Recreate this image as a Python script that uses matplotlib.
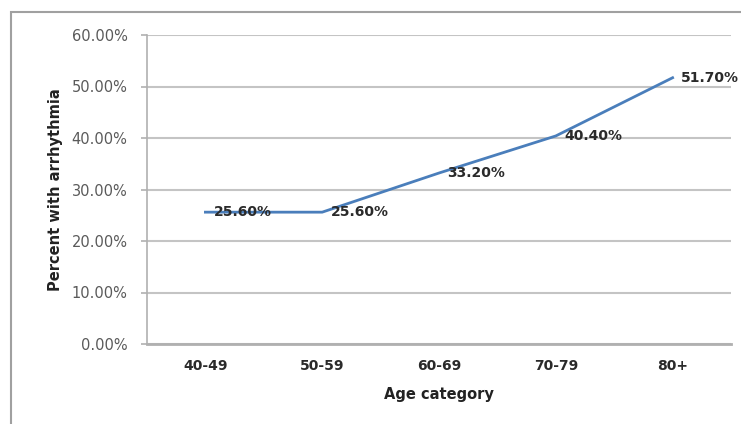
import matplotlib.pyplot as plt
from matplotlib.patches import Rectangle
from matplotlib.ticker import FuncFormatter

# arrhythmia prevalence by age group
age_groups = ["40-49", "50-59", "60-69", "70-79", "80+"]
pct_arrhythmia = [25.6, 25.6, 33.2, 40.4, 51.7]
y_ticks = [0, 10, 20, 30, 40, 50, 60]

plt.rcParams['font.family'] = ['DejaVu Sans']

fig = plt.figure(figsize=(7.41, 4.24), dpi=100)
fig.patch.set_facecolor('white')

# chart area border
fig.patches.append(Rectangle((11 / 741, -0.05), 1.0, 1 - 12 / 424 + 0.05,
                             transform=fig.transFigure, fill=False,
                             edgecolor='#a0a0a0', linewidth=1.5))

ax = fig.add_axes([147 / 741, 80 / 424, 584 / 741, 309 / 424])

x = list(range(len(age_groups)))
ax.plot(x, pct_arrhythmia, color='#4a7ebb', linewidth=2, zorder=3)

for xi, v in zip(x, pct_arrhythmia):
    ax.annotate(f"{v:.2f}%", (xi, v), xytext=(6, 0), textcoords='offset points',
                ha='left', va='center', fontsize=10, fontweight='bold',
                color='#2a2a2a', zorder=4)

ax.set_xlim(-0.5, len(age_groups) - 0.5)
ax.set_ylim(0, 60)
ax.set_yticks(y_ticks)
ax.yaxis.set_major_formatter(FuncFormatter(lambda v, p: f"{v:.2f}%"))
ax.set_xticks(x)
ax.set_xticklabels(age_groups, fontsize=10, fontweight='bold', color='#2a2a2a')

ax.grid(axis='y', color='#c4c4c4', linewidth=1.5)
ax.set_axisbelow(True)
for side in ['top', 'right']:
    ax.spines[side].set_visible(False)
ax.spines['left'].set_color('#b0b0b0')
ax.spines['left'].set_linewidth(1.2)
ax.spines['bottom'].set_color('#b0b0b0')
ax.spines['bottom'].set_linewidth(2)

ax.tick_params(axis='y', labelsize=10.5, labelcolor='#5a5a5a', color='#b0b0b0',
               length=4, width=1.2, pad=10)
ax.tick_params(axis='x', length=0, pad=11)

ax.set_xlabel("Age category", fontsize=10.5, fontweight='bold', color='#222222', labelpad=10)
ax.set_ylabel("Percent with arrhythmia", fontsize=10.5, fontweight='bold', color='#222222', labelpad=6)

fig.savefig("out.png", dpi=100)
